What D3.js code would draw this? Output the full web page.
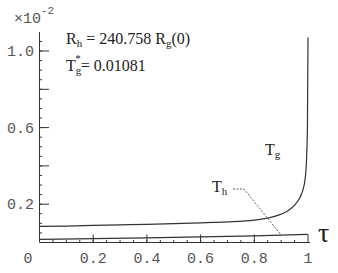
<!DOCTYPE html>
<html>
<head>
<meta charset="utf-8">
<script src="https://cdn.jsdelivr.net/npm/d3@7"></script>
<style>
  body { margin: 0; background: #fff; }
  svg { display: block; }
  .tick-label { font-family: "Liberation Mono", monospace; font-size: 15px; fill: #555; }
  .note { font-family: "Liberation Serif", serif; font-size: 16px; fill: #222; }
</style>
</head>
<body>
<div id="chart"></div>
<script>
// values (y in units of 1e-2)
const tauValues = [0, 0.1, 0.2, 0.3, 0.4, 0.5, 0.6, 0.7, 0.8, 0.85, 0.9, 0.93, 0.95, 0.97, 0.98, 0.99, 0.995, 0.998, 1.0];
const tgValues  = [0.084, 0.086, 0.089, 0.092, 0.095, 0.099, 0.103, 0.108, 0.117, 0.127, 0.148, 0.17, 0.195, 0.235, 0.27, 0.34, 0.45, 0.62, 1.07];
const thTau     = [0, 0.2, 0.4, 0.6, 0.8, 1.0];
const thValues  = [0.016, 0.02, 0.024, 0.029, 0.035, 0.043];

const xTicks = [0, 0.2, 0.4, 0.6, 0.8, 1];
const xTickLabels = ["0", "0.2", "0.4", "0.6", "0.8", "1"];
const yTicks = [0.2, 0.4, 0.6, 0.8, 1.0];
const yTickLabels = ["0.2", "", "0.6", "", "1.0"];

const width = 338, height = 273;

const x = d3.scaleLinear().domain([0, 1]).range([39.5, 308]);
const y = d3.scaleLinear().domain([0, 1]).range([242.5, 51]);

const svg = d3.select("#chart").append("svg")
    .attr("width", width)
    .attr("height", height);

const axisColor = "#333";

// axes lines
svg.append("line")
    .attr("x1", x(0)).attr("x2", x(0))
    .attr("y1", 32).attr("y2", y(0))
    .attr("stroke", axisColor).attr("stroke-width", 1);
svg.append("line")
    .attr("x1", x(0)).attr("x2", x(1) + 2)
    .attr("y1", y(0)).attr("y2", y(0))
    .attr("stroke", axisColor).attr("stroke-width", 1);

// minor ticks every 0.05
const minor = d3.range(0.05, 1.1, 0.05);
svg.append("g").selectAll("line.ym")
    .data(minor.filter(v => v <= 1.08))
    .enter().append("line")
    .attr("x1", x(0)).attr("x2", x(0) + 2.5)
    .attr("y1", d => y(d)).attr("y2", d => y(d))
    .attr("stroke", axisColor).attr("stroke-width", 1);
svg.append("g").selectAll("line.xm")
    .data(d3.range(0.05, 1.0, 0.05))
    .enter().append("line")
    .attr("x1", d => x(d)).attr("x2", d => x(d))
    .attr("y1", y(0)).attr("y2", y(0) - 2.5)
    .attr("stroke", axisColor).attr("stroke-width", 1);

// major ticks
svg.append("g").selectAll("line")
    .data(yTicks)
    .enter().append("line")
    .attr("x1", x(0)).attr("x2", x(0) + 9.5)
    .attr("y1", d => y(d)).attr("y2", d => y(d))
    .attr("stroke", axisColor).attr("stroke-width", 1);
svg.append("g").selectAll("line")
    .data(xTicks.slice(1))
    .enter().append("line")
    .attr("x1", d => x(d)).attr("x2", d => x(d))
    .attr("y1", y(0)).attr("y2", y(0) - 8)
    .attr("stroke", axisColor).attr("stroke-width", 1);

// tick labels
svg.append("g").selectAll("text")
    .data(yTicks)
    .enter().append("text")
    .attr("class", "tick-label")
    .attr("x", 34)
    .attr("y", d => y(d) + 1)
    .attr("text-anchor", "end")
    .attr("dominant-baseline", "middle")
    .text((d, i) => yTickLabels[i]);

svg.append("g").selectAll("text")
    .data(xTicks)
    .enter().append("text")
    .attr("class", "tick-label")
    .attr("x", d => d === 0 ? 28 : x(d))
    .attr("y", 263)
    .attr("text-anchor", "middle")
    .text((d, i) => xTickLabels[i]);

// exponent
const ex = svg.append("text").attr("class", "tick-label").attr("x", 14).attr("y", 23);
ex.append("tspan").text("\u00d710");
ex.append("tspan").attr("dy", -9).attr("font-size", 11).text("-2");

// tau axis label
svg.append("text")
    .attr("x", 318).attr("y", 242)
    .attr("font-family", "Liberation Serif, serif")
    .attr("font-size", 28)
    .attr("fill", "#222")
    .text("\u03c4");

// curves
const line = d3.line()
    .x(d => x(d[0]))
    .y(d => y(d[1]))
    .curve(d3.curveMonotoneX);

svg.append("path")
    .datum(tauValues.map((t, i) => [t, tgValues[i]]))
    .attr("d", line)
    .attr("fill", "none")
    .attr("stroke", "#333")
    .attr("stroke-width", 1.2);

svg.append("path")
    .datum(thTau.map((t, i) => [t, thValues[i]]))
    .attr("d", line)
    .attr("fill", "none")
    .attr("stroke", "#333")
    .attr("stroke-width", 1.2);

// annotations
const r = svg.append("text").attr("class", "note").attr("x", 66).attr("y", 44);
r.append("tspan").text("R");
r.append("tspan").attr("font-size", 11).attr("dy", 3).text("h");
r.append("tspan").attr("dy", -3).text(" = 240.758 R");
r.append("tspan").attr("font-size", 11).attr("dy", 3).text("g");
r.append("tspan").attr("dy", -3).text("(0)");

const t = svg.append("text").attr("class", "note").attr("x", 66).attr("y", 71);
t.append("tspan").text("T");
t.append("tspan").attr("font-size", 11).attr("dy", 3).text("g");
t.append("tspan").attr("font-size", 11).attr("dx", -6).attr("dy", -12).text("*");
t.append("tspan").attr("dy", 9).text("= 0.01081");

const tg = svg.append("text").attr("class", "note").attr("x", 265).attr("y", 155);
tg.append("tspan").text("T");
tg.append("tspan").attr("font-size", 11).attr("dy", 3).text("g");

const th = svg.append("text").attr("class", "note").attr("x", 212).attr("y", 192);
th.append("tspan").text("T");
th.append("tspan").attr("font-size", 11).attr("dy", 3).text("h");

// leader from Th label to its curve
const thPoint = [0.9, 0.039];
svg.append("path")
    .attr("d", `M233,189 L244,189 L${x(thPoint[0])},${y(thPoint[1])}`)
    .attr("fill", "none")
    .attr("stroke", "#333")
    .attr("stroke-width", 0.8)
    .attr("stroke-dasharray", "2,1.5");
</script>
</body>
</html>
